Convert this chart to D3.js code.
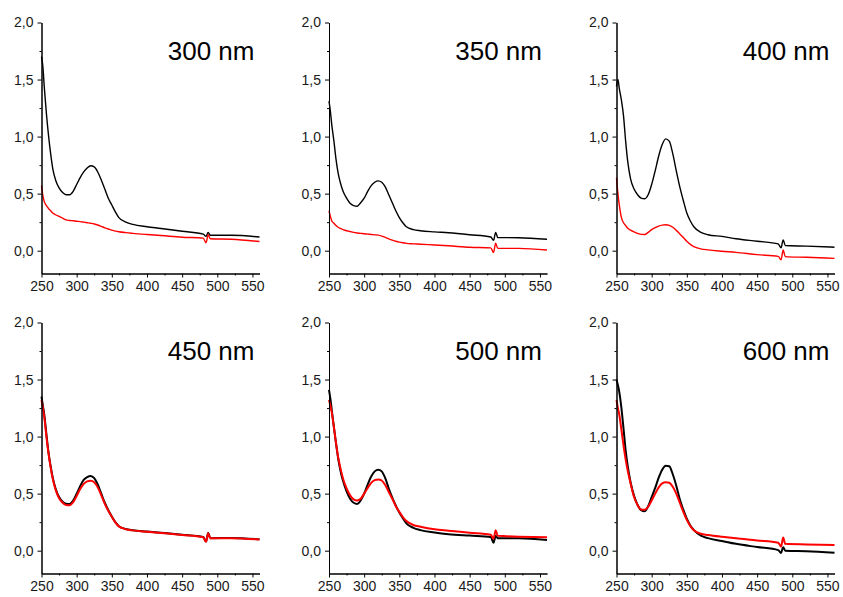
<!DOCTYPE html>
<html>
<head>
<meta charset="utf-8">
<script src="https://cdn.jsdelivr.net/npm/d3@7"></script>
<style>
  body { margin: 0; background: #fff; }
  svg { display: block; }
  .title { font-family: Arial, "Liberation Sans", sans-serif; font-size: 26px; fill: #000; }
</style>
</head>
<body>
<svg id="chart" width="843" height="597"></svg>
<script>
// wavelength grid (nm), shared by all panels
var wavelengths = [250, 252, 254, 257, 260, 263, 266, 270, 275, 280, 285, 290, 295, 300, 305, 310, 315, 320, 325, 330, 335, 340, 345, 350, 355, 360, 370, 380, 400, 420, 450, 480, 484, 487, 490, 520, 560];

var panelTitles = ["300 nm", "350 nm", "400 nm", "450 nm", "500 nm", "600 nm"];

var xTicks = [250, 300, 350, 400, 450, 500, 550];
var xMinorTicks = [275, 325, 375, 425, 475, 525];
var yTicks = [0, 0.5, 1.0, 1.5, 2.0];
var yMinorTicks = [0.25, 0.75, 1.25, 1.75];

// black = before, red = after
var black300 = [1.70, 1.61, 1.43, 1.20, 1.01, 0.85, 0.72, 0.62, 0.55, 0.51, 0.49, 0.49, 0.52, 0.58, 0.64, 0.69, 0.725, 0.745, 0.735, 0.69, 0.62, 0.54, 0.46, 0.40, 0.34, 0.29, 0.25, 0.23, 0.21, 0.195, 0.17, 0.145, 0.125, 0.16, 0.135, 0.135, 0.12];
var red300 = [0.57, 0.48, 0.43, 0.395, 0.37, 0.35, 0.33, 0.315, 0.30, 0.285, 0.27, 0.265, 0.262, 0.258, 0.255, 0.25, 0.245, 0.24, 0.234, 0.225, 0.213, 0.2, 0.19, 0.18, 0.172, 0.166, 0.158, 0.152, 0.142, 0.133, 0.118, 0.11, 0.07, 0.14, 0.105, 0.10, 0.08];

var black350 = [1.31, 1.22, 1.10, 0.96, 0.80, 0.68, 0.60, 0.52, 0.46, 0.415, 0.395, 0.39, 0.42, 0.46, 0.52, 0.57, 0.60, 0.612, 0.60, 0.56, 0.49, 0.42, 0.35, 0.29, 0.245, 0.21, 0.185, 0.175, 0.165, 0.157, 0.14, 0.12, 0.09, 0.16, 0.115, 0.113, 0.10];
var red350 = [0.35, 0.30, 0.26, 0.24, 0.22, 0.205, 0.195, 0.185, 0.175, 0.168, 0.16, 0.155, 0.152, 0.148, 0.145, 0.142, 0.139, 0.136, 0.128, 0.116, 0.104, 0.093, 0.083, 0.075, 0.069, 0.064, 0.06, 0.057, 0.05, 0.043, 0.03, 0.025, -0.015, 0.065, 0.02, 0.02, 0.006];

var black400 = [1.44, 1.50, 1.42, 1.32, 1.18, 0.96, 0.78, 0.63, 0.54, 0.49, 0.46, 0.455, 0.49, 0.58, 0.70, 0.83, 0.93, 0.98, 0.96, 0.85, 0.70, 0.56, 0.44, 0.33, 0.26, 0.21, 0.16, 0.14, 0.125, 0.105, 0.083, 0.06, 0.025, 0.095, 0.045, 0.04, 0.03];
var red400 = [0.64, 0.50, 0.40, 0.29, 0.245, 0.22, 0.197, 0.18, 0.165, 0.152, 0.143, 0.142, 0.16, 0.185, 0.203, 0.216, 0.224, 0.227, 0.222, 0.205, 0.178, 0.147, 0.115, 0.082, 0.055, 0.035, 0.016, 0.007, -0.005, -0.015, -0.035, -0.05, -0.08, 0.006, -0.052, -0.058, -0.067];

var black450 = [1.35, 1.27, 1.19, 1.02, 0.86, 0.74, 0.64, 0.545, 0.47, 0.43, 0.412, 0.41, 0.44, 0.50, 0.565, 0.62, 0.645, 0.655, 0.635, 0.58, 0.50, 0.42, 0.355, 0.30, 0.25, 0.215, 0.19, 0.18, 0.168, 0.157, 0.14, 0.12, 0.08, 0.155, 0.11, 0.112, 0.10];
var red450 = [1.32, 1.25, 1.17, 1.00, 0.85, 0.73, 0.63, 0.535, 0.46, 0.42, 0.40, 0.398, 0.425, 0.48, 0.54, 0.585, 0.607, 0.614, 0.60, 0.555, 0.485, 0.41, 0.35, 0.297, 0.248, 0.213, 0.188, 0.178, 0.166, 0.155, 0.138, 0.118, 0.078, 0.152, 0.108, 0.11, 0.098];

var black500 = [1.41, 1.33, 1.23, 1.08, 0.94, 0.81, 0.71, 0.61, 0.52, 0.455, 0.42, 0.41, 0.44, 0.50, 0.58, 0.65, 0.695, 0.71, 0.695, 0.635, 0.545, 0.465, 0.395, 0.335, 0.285, 0.24, 0.20, 0.18, 0.16, 0.145, 0.132, 0.12, 0.07, 0.13, 0.108, 0.108, 0.094];
var red500 = [1.32, 1.27, 1.21, 1.08, 0.94, 0.82, 0.73, 0.63, 0.545, 0.485, 0.45, 0.44, 0.455, 0.50, 0.55, 0.595, 0.618, 0.625, 0.615, 0.575, 0.515, 0.455, 0.39, 0.34, 0.295, 0.26, 0.225, 0.21, 0.187, 0.175, 0.158, 0.14, 0.105, 0.18, 0.13, 0.123, 0.117];

var black600 = [1.50, 1.45, 1.39, 1.25, 1.07, 0.88, 0.74, 0.60, 0.48, 0.40, 0.355, 0.345, 0.39, 0.47, 0.55, 0.64, 0.71, 0.745, 0.74, 0.67, 0.57, 0.45, 0.36, 0.28, 0.22, 0.18, 0.132, 0.11, 0.085, 0.06, 0.032, 0.005, -0.02, 0.03, 0.0, -0.005, -0.018];
var red600 = [1.32, 1.25, 1.19, 1.06, 0.92, 0.80, 0.70, 0.59, 0.47, 0.40, 0.36, 0.358, 0.385, 0.44, 0.50, 0.555, 0.59, 0.60, 0.595, 0.56, 0.50, 0.42, 0.34, 0.27, 0.215, 0.18, 0.148, 0.138, 0.122, 0.108, 0.09, 0.07, 0.035, 0.115, 0.06, 0.055, 0.05];

var blackSeries = [black300, black350, black400, black450, black500, black600];
var redSeries = [red300, red350, red400, red450, red500, red600];

var svg = d3.select("#chart");

var plotW = 218, plotH = 251,
    colX = [41.5, 329, 616.5],
    rowY = [22.5, 322.5];

var x = d3.scaleLinear().domain([250, 560]).range([0, plotW]);
var y = d3.scaleLinear().domain([-0.2, 2.0]).range([plotH, 0]);

var fmt = function(d){ return d3.format(".1f")(d).replace(".", ","); };

function styleAxis(sel){
    sel.attr("font-family", "Arial, 'Liberation Sans', sans-serif").attr("font-size", 14);
    sel.selectAll(".domain").attr("stroke", "#000");
    sel.selectAll(".tick line").attr("stroke", "#000");
    sel.selectAll(".tick text").attr("fill", "#1a1a1a");
}

panelTitles.forEach(function(title, i){
    var g = svg.append("g")
        .attr("transform", "translate(" + colX[i % 3] + "," + rowY[Math.floor(i / 3)] + ")");
    var lineW = i < 3 ? 1.4 : 2;

    var line = d3.line()
        .x(function(d, k){ return x(wavelengths[k]); })
        .y(function(d){ return y(d); })
        .curve(d3.curveMonotoneX);

    g.append("path")
        .datum(blackSeries[i])
        .attr("d", line)
        .attr("fill", "none")
        .attr("stroke", "#000")
        .attr("stroke-width", lineW);

    g.append("path")
        .datum(redSeries[i])
        .attr("d", line)
        .attr("fill", "none")
        .attr("stroke", "#ff0000")
        .attr("stroke-width", lineW);

    // axes
    g.append("g")
        .attr("transform", "translate(0," + plotH + ")")
        .call(d3.axisBottom(x).tickValues(xMinorTicks).tickSize(2).tickSizeOuter(0).tickFormat(""))
        .call(styleAxis);
    g.append("g")
        .attr("transform", "translate(0," + plotH + ")")
        .call(d3.axisBottom(x).tickValues(xTicks).tickSize(4).tickSizeOuter(0).tickPadding(4))
        .call(styleAxis);

    g.append("g")
        .call(d3.axisLeft(y).tickValues(yMinorTicks).tickSize(2).tickSizeOuter(0).tickFormat(""))
        .call(styleAxis);
    g.append("g")
        .call(d3.axisLeft(y).tickValues(yTicks).tickSize(4).tickSizeOuter(0).tickPadding(4).tickFormat(fmt))
        .call(styleAxis);

    g.append("text")
        .attr("class", "title")
        .attr("x", plotW - 5)
        .attr("y", 37)
        .attr("text-anchor", "end")
        .text(title);
});
</script>
</body>
</html>
